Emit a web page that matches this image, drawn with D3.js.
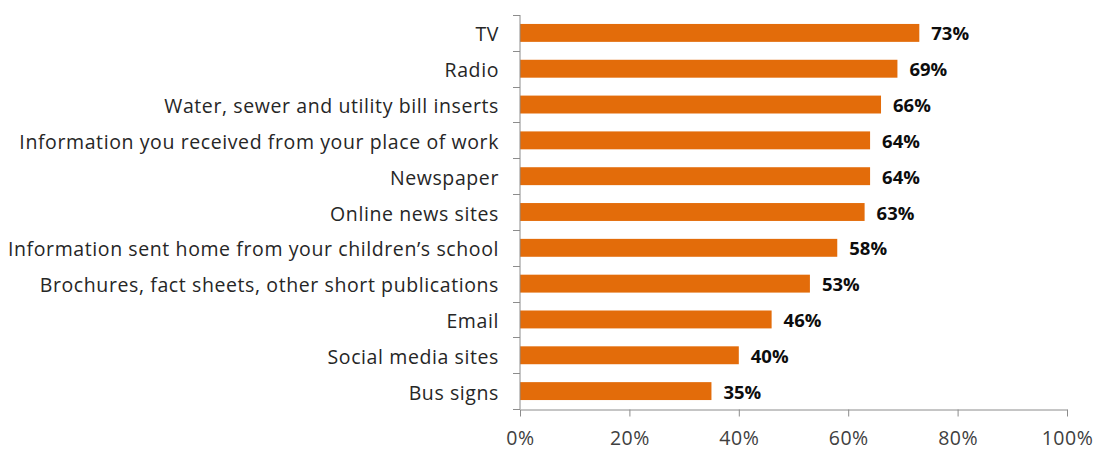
<!DOCTYPE html>
<html>
<head>
<meta charset="utf-8">
<script src="https://cdn.jsdelivr.net/npm/d3@7"></script>
<style>
  html, body { margin: 0; padding: 0; background: #fff; }
  svg { display: block; }
  text { font-family: "Open Sans", "Noto Sans", sans-serif; }
</style>
</head>
<body>
<svg id="chart" width="1095" height="449"></svg>
<script>
// Share of respondents using each information source
const categories = [
  "TV",
  "Radio",
  "Water, sewer and utility bill inserts",
  "Information you received from your place of work",
  "Newspaper",
  "Online news sites",
  "Information sent home from your children\u2019s school",
  "Brochures, fact sheets, other short publications",
  "Email",
  "Social media sites",
  "Bus signs"
];
const values = [73, 69, 66, 64, 64, 63, 58, 53, 46, 40, 35];
const xTicks = [0, 20, 40, 60, 80, 100];

const svg = d3.select("#chart");
const margin = { left: 520, right: 28, top: 15, bottom: 40 };
const W = 1095, H = 449;

const x = d3.scaleLinear().domain([0, 100]).range([margin.left, W - margin.right]);
const y = d3.scaleBand().domain(categories).range([margin.top, H - margin.bottom]).paddingInner(0.5).paddingOuter(0.25);
const yb = d3.scaleBand().domain(categories).range([margin.top, H - margin.bottom]);

const axisColor = "#8c8c8c";

// bars
svg.append("g").selectAll("rect")
  .data(values)
  .join("rect")
  .attr("x", x(0))
  .attr("y", (d, i) => y(categories[i]))
  .attr("width", d => x(d) - x(0))
  .attr("height", y.bandwidth())
  .attr("fill", "#e36c0a");

// value labels
svg.append("g").selectAll("text")
  .data(values)
  .join("text")
  .attr("x", d => x(d) + 12)
  .attr("y", (d, i) => y(categories[i]) + y.bandwidth() / 2 + 7.5)
  .attr("font-size", 18.5)
  .attr("font-weight", "bold")
  .attr("fill", "#0d0d0d")
  .text(d => d + "%");

// y axis with ticks between categories
const yAxisG = svg.append("g");
yAxisG.append("line")
  .attr("x1", x(0)).attr("x2", x(0))
  .attr("y1", margin.top).attr("y2", H - margin.bottom)
  .attr("stroke", axisColor);
const boundaries = categories.map(c => yb(c)).concat([H - margin.bottom]);
yAxisG.selectAll(".yt")
  .data(boundaries)
  .join("line")
  .attr("x1", x(0) - 7).attr("x2", x(0))
  .attr("y1", d => Math.round(d) + 0.5).attr("y2", d => Math.round(d) + 0.5)
  .attr("stroke", axisColor);
yAxisG.selectAll(".yl")
  .data(categories)
  .join("text")
  .attr("x", x(0) - 21)
  .attr("y", c => yb(c) + yb.bandwidth() / 2 + 8.5)
  .attr("text-anchor", "end")
  .attr("font-size", 19.5)
  .attr("letter-spacing", 0.6)
  .attr("fill", "#262626")
  .text(c => c);

// x axis
const xAxis = d3.axisBottom(x)
  .tickValues(xTicks)
  .tickFormat(d => d + "%")
  .tickSizeInner(7)
  .tickSizeOuter(0);
const xg = svg.append("g")
  .attr("transform", `translate(0,${H - margin.bottom + 0.5})`)
  .call(xAxis);
xg.select(".domain").attr("stroke", axisColor);
xg.selectAll(".tick line").attr("stroke", axisColor);
xg.selectAll(".tick text")
  .attr("y", 35)
  .attr("dy", 0)
  .attr("font-size", 19.5)
  .attr("letter-spacing", 0.5)
  .attr("fill", "#404040")
  .attr("font-family", "\"Open Sans\", \"Noto Sans\", sans-serif");
</script>
</body>
</html>
